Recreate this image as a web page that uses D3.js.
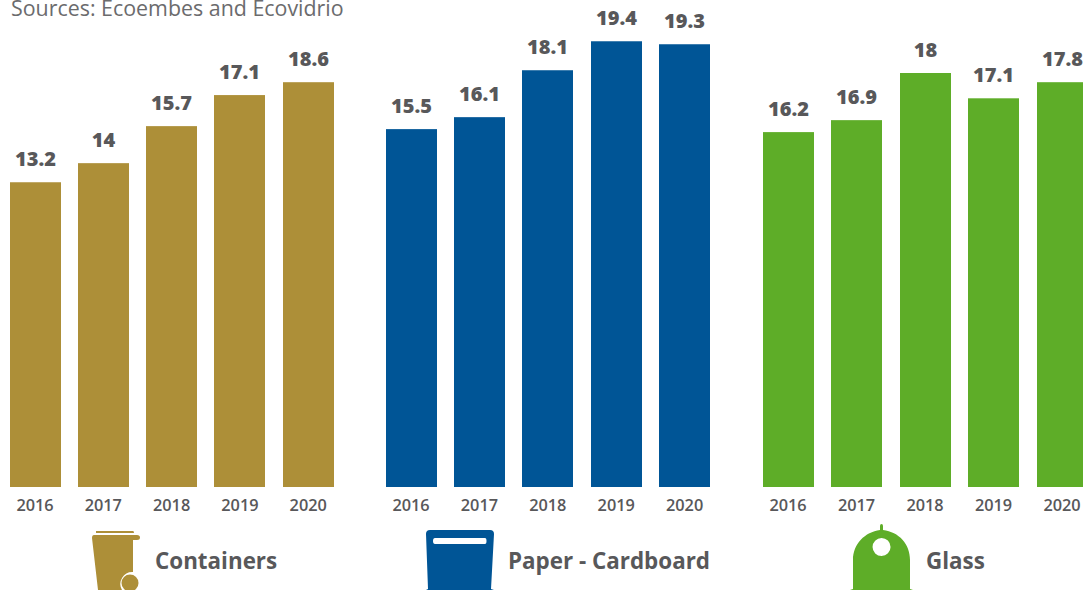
<!DOCTYPE html>
<html><head><meta charset="utf-8">
<script src="https://cdn.jsdelivr.net/npm/d3@7"></script>
<style>html,body{margin:0;padding:0;background:#fff;overflow:hidden}svg{display:block}text{font-family:"Open Sans",sans-serif}</style>
</head><body><svg id="c" width="1083" height="590"></svg>
<script>
const years = ["2016","2017","2018","2019","2020"];
const sourceNote = "Sources: Ecoembes and Ecovidrio";
const panelNames = ["Containers","Paper - Cardboard","Glass"];
const panelColors = ["#ad8f38","#005596","#5ead28"];
// bar heights as drawn in the picture
const containersBars = [13.25,14.08,15.69,17.04,17.6];
const paperBars = [15.56,16.08,18.12,19.38,19.25];
const glassBars = [15.43,15.95,18.0,16.9,17.6];
// printed labels
const containersLabels = ["13.2","14","15.7","17.1","18.6"];
const paperLabels = ["15.5","16.1","18.1","19.4","19.3"];
const glassLabels = ["16.2","16.9","18","17.1","17.8"];

const bars=[containersBars,paperBars,glassBars];
const labels=[containersLabels,paperLabels,glassLabels];
const starts=[9.5,385.5,762.5], steps=[68.3,68.4,68.5], barW=51;
const labelX=[155,508,926];
const svg=d3.select("#c");
const y=d3.scaleLinear().domain([0,20]).range([487,27]);
const ink="#58585a";

svg.append("text").attr("x",11).attr("y",15.500).attr("font-size",21.4).attr("fill","#6b6b6d").text(sourceNote);

panelNames.forEach((name,i)=>{
  const x=d3.scaleBand().domain(years)
    .range([starts[i],starts[i]+4*steps[i]+barW]).paddingInner(1-barW/steps[i]);
  const left=d=>Math.round(x(d)+1e-6);
  const g=svg.append("g");
  g.selectAll("rect").data(years).join("rect")
    .attr("x",left).attr("width",barW)
    .attr("y",(d,j)=>y(bars[i][j])).attr("height",(d,j)=>y(0)-y(bars[i][j]))
    .attr("fill",panelColors[i]);
  g.selectAll("text.v").data(years).join("text").attr("class","v")
    .attr("x",d=>left(d)+barW/2).attr("y",(d,j)=>y(bars[i][j])-16)
    .attr("text-anchor","middle").attr("font-size",20).attr("font-weight",800).attr("fill",ink)
    .text((d,j)=>labels[i][j]);
  const ax=d3.axisBottom(x).tickSize(0).tickPadding(0);
  const a=svg.append("g").attr("transform","translate(0,493)").call(ax);
  a.select(".domain").remove();
  a.selectAll("text").attr("font-size",16.3).attr("font-weight",600).attr("fill",ink).attr("font-family",'"Open Sans",sans-serif').attr("dy","1em").attr("y",2);
  svg.append("text").attr("x",labelX[i]).attr("y",569).attr("font-size",22.4).attr("font-weight",700).attr("fill",ink).text(name);
});

// icons
svg.append("path").attr("fill",panelColors[0]).attr("d","M96 531H133Q134 531 134 533H96Q96 531 96 531ZM94 535H137Q140 535 140 537.500Q140 540 137 540H133V572A12 12 0 0 0 122 590H98L92 538Q92 535 94 535Z");
svg.append("circle").attr("cx",130).attr("cy",583).attr("r",8.5).attr("fill",panelColors[0]);
svg.append("path").attr("fill-rule","evenodd").attr("fill",panelColors[1]).attr("d","M430 530H490Q494 530 494 534L491 589L494 590H426L428 589L426 534Q426 530 430 530ZM435 538Q433 538 433 541Q433 544 435 544H485Q486.500 544 486.500 541Q486.500 538 485 538Z");
svg.append("path").attr("fill-rule","evenodd").attr("fill",panelColors[2]).attr("d","M880 530V526Q880 524 881.500 524Q883 524 883 526V530C899 532 910 544 910 560V589L913 590H850L853 589V560C853 544 865 532 880 530ZM881.500 538A9 9 0 1 0 881.600 556A9 9 0 1 0 881.500 538Z");
</script></body></html>
